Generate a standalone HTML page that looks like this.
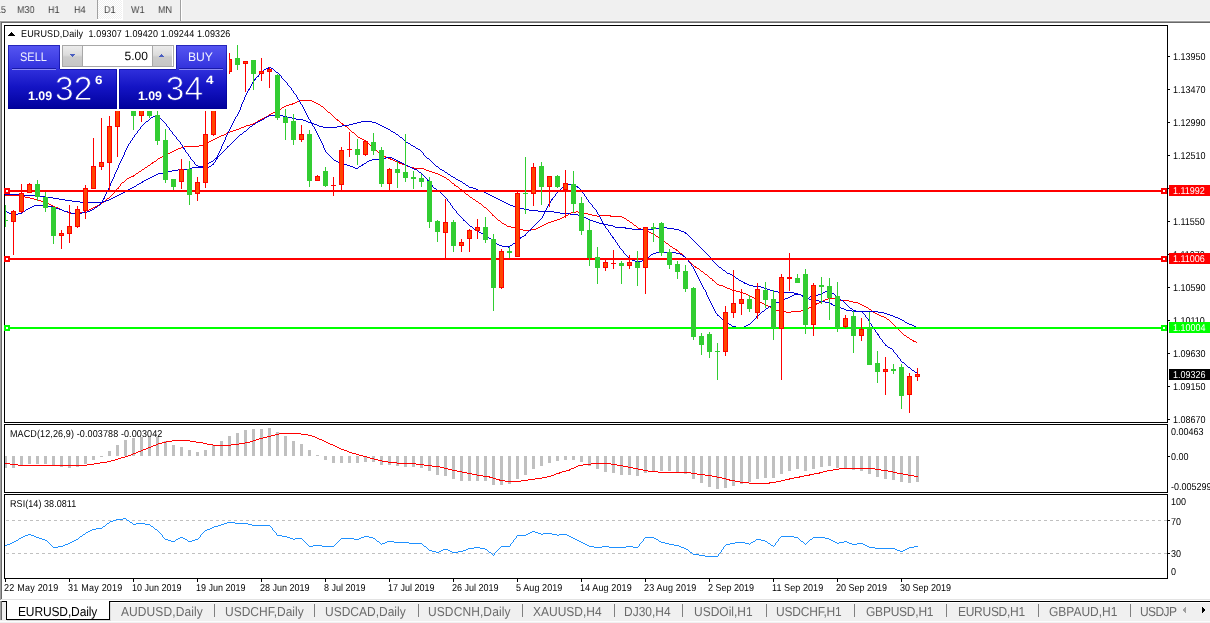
<!DOCTYPE html>
<html><head><meta charset="utf-8"><title>EURUSD,Daily</title>
<style>
html,body{margin:0;padding:0}
body{width:1210px;height:623px;background:#fff;position:relative;overflow:hidden;font-family:"Liberation Sans",sans-serif;text-rendering:geometricPrecision;}
.t{position:absolute;white-space:nowrap;font-size:10px;line-height:11px;color:#000;transform:scaleX(.9);transform-origin:0 0}
.tbt{color:#3c3c3c;will-change:transform}
.tab{font-size:13px;line-height:14px;color:#6a6a6a;transform:scaleX(.923)}
.tab.act{color:#000}
.tag{position:absolute;left:1169px;width:41px;height:11px;font-size:10px;line-height:11px;}
.tag span{position:absolute;left:4px;top:1px;transform:scaleX(.9);transform-origin:0 0;white-space:nowrap}
#tbar{position:absolute;left:0;top:0;width:1210px;height:21px;background:#f0f0f0}
#tabbar{position:absolute;left:0;top:601px;width:1210px;height:22px;background:#f0f0f0}
svg{position:absolute;left:0;top:0}

.pb{position:absolute}
.ov{position:absolute;background:rgba(0,0,140,0.55)}
.sp{position:absolute;width:20px;height:20px;background:linear-gradient(#ececec,#dcdcdc 45%,#cbcbcb 55%,#c6c6c6);border-right:1px solid #a8a8a8;box-sizing:border-box}
.sp+.sp{border-right:none;border-left:1px solid #a8a8a8}
.pr1{top:89px;font-size:12.4px;line-height:14px;font-weight:bold;color:#fff;transform:none}
.pr2{top:72px;font-size:33.5px;line-height:36px;color:#fff;transform:none;-webkit-text-stroke:0.8px #1a1ac6}
.pr3{top:73px;font-size:12px;line-height:14px;font-weight:bold;color:#fff;transform-origin:0 0;transform:scaleX(1.12)}

</style></head><body>
<div id="tbar"></div>
<div style="position:absolute;left:0;top:20px;width:1210px;height:1px;background:#f8f8f8"></div>
<div style="position:absolute;left:0;top:21px;width:1210px;height:1px;background:#a0a0a0"></div>
<div style="position:absolute;left:1px;top:22px;width:1209px;height:1px;background:#696969"></div>
<div style="position:absolute;left:0;top:21px;width:1px;height:579px;background:#a0a0a0"></div>
<div style="position:absolute;left:1px;top:22px;width:1px;height:577px;background:#696969"></div>
<div style="position:absolute;left:97px;top:0;width:26px;height:20px;background:#fff"></div>
<div style="position:absolute;left:98px;top:0;width:24px;height:19px;background:repeating-conic-gradient(#fff 0% 25%,#f0f0f0 0% 50%) 0 0/2px 2px"></div>
<div style="position:absolute;left:97px;top:0;width:1px;height:19px;background:#a0a0a0"></div>
<div style="position:absolute;left:180px;top:0;width:1px;height:21px;background:#a0a0a0"></div>
<div style="position:absolute;left:181px;top:0;width:1px;height:21px;background:#fff"></div>
<div class="t tbt" style="left:-3.7px;top:5px">15</div>
<div class="t tbt" style="left:16.5px;top:5px">M30</div>
<div class="t tbt" style="left:47.6px;top:5px">H1</div>
<div class="t tbt" style="left:74.4px;top:5px">H4</div>
<div class="t tbt" style="left:103.6px;top:5px">D1</div>
<div class="t tbt" style="left:131.4px;top:5px">W1</div>
<div class="t tbt" style="left:157.5px;top:5px">MN</div>
<svg width="1210" height="623" viewBox="0 0 1210 623" shape-rendering="crispEdges">
<rect x="4" y="25" width="1164" height="1" fill="#000"/>
<rect x="4" y="25" width="1" height="553" fill="#000"/>
<rect x="1167" y="25" width="1" height="397" fill="#000"/>
<rect x="4" y="422" width="1164" height="1" fill="#000"/>
<rect x="4" y="424" width="1164" height="1" fill="#000"/>
<rect x="1167" y="424" width="1" height="69" fill="#000"/>
<rect x="4" y="492" width="1164" height="1" fill="#000"/>
<rect x="4" y="494" width="1164" height="1" fill="#000"/>
<rect x="1167" y="494" width="1" height="85" fill="#000"/>
<rect x="4" y="578" width="1164" height="1" fill="#000"/>
<rect x="4" y="423" width="1" height="1" fill="#fff"/>
<rect x="4" y="493" width="1" height="1" fill="#fff"/>
<defs><clipPath id="cm"><rect x="5" y="26" width="1162" height="396"/></clipPath><clipPath id="c2"><rect x="5" y="425" width="1162" height="67"/></clipPath><clipPath id="c3"><rect x="5" y="495" width="1162" height="83"/></clipPath></defs>
<g clip-path="url(#cm)">
<path d="M299,100.5h13M297,101.5h2M312,101.5h2M295,102.5h2M314,102.5h2M292,103.5h3M316,103.5h2M289,104.5h4M318,104.5h2M286,105.5h3M320,105.5h1M284,106.5h2M321,106.5h2M282,107.5h2M323,107.5h1M281,108.5h1M324,108.5h1M279,109.5h2M325,109.5h1M277,110.5h2M326,110.5h1M275,111.5h2M327,111.5h1M273,112.5h2M328,112.5h2M271,113.5h2M330,113.5h1M269,114.5h2M331,114.5h1M268,115.5h1M332,115.5h1M266,116.5h2M333,116.5h1M264,117.5h2M334,117.5h1M262,118.5h2M335,118.5h1M260,119.5h2M336,119.5h2M258,120.5h2M337,120.5h2M257,121.5h1M339,121.5h1M255,122.5h2M340,122.5h1M253,123.5h2M341,123.5h2M250,124.5h3M342,124.5h2M246,125.5h4M344,125.5h1M244,126.5h2M345,126.5h2M241,127.5h3M347,127.5h1M239,128.5h2M348,128.5h1M236,129.5h3M349,129.5h1M233,130.5h3M350,130.5h1M230,131.5h3M351,131.5h1M227,132.5h3M352,132.5h2M226,133.5h2M354,133.5h1M224,134.5h2M355,134.5h1M221,135.5h3M356,135.5h1M219,136.5h2M357,136.5h1M217,137.5h2M358,137.5h2M215,138.5h2M360,138.5h2M213,139.5h2M362,139.5h2M211,140.5h2M364,140.5h1M209,141.5h2M365,141.5h1M207,142.5h2M366,142.5h2M205,143.5h2M368,143.5h1M203,144.5h2M369,144.5h1M199,145.5h4M370,145.5h1M184,146.5h15M371,146.5h2M181,147.5h3M373,147.5h1M178,148.5h3M374,148.5h1M176,149.5h2M375,149.5h1M174,150.5h2M376,150.5h1M172,151.5h2M377,151.5h1M170,152.5h2M378,152.5h1M168,153.5h2M379,153.5h2M165,154.5h3M381,154.5h1M163,155.5h2M382,155.5h2M162,156.5h1M384,156.5h2M160,157.5h2M385,157.5h3M158,158.5h2M388,158.5h3M157,159.5h1M390,159.5h3M156,160.5h1M393,160.5h2M154,161.5h2M395,161.5h3M152,162.5h2M398,162.5h2M151,163.5h2M399,163.5h3M150,164.5h1M402,164.5h3M148,165.5h2M405,165.5h2M147,166.5h1M407,166.5h3M145,167.5h2M410,167.5h4M144,168.5h1M414,168.5h10M142,169.5h2M424,169.5h2M141,170.5h1M426,170.5h3M139,171.5h2M429,171.5h3M138,172.5h1M432,172.5h3M136,173.5h2M435,173.5h3M135,174.5h1M438,174.5h2M133,175.5h2M440,175.5h2M131,176.5h3M442,176.5h2M129,177.5h2M444,177.5h2M127,178.5h2M446,178.5h1M126,179.5h1M447,179.5h2M125,180.5h1M449,180.5h1M124,181.5h1M450,181.5h1M122,182.5h2M451,182.5h1M121,183.5h1M452,183.5h2M120,184.5h1M454,184.5h1M120,185.5h1M454,185.5h2M119,186.5h1M456,186.5h2M118,187.5h1M458,187.5h1M117,188.5h2M459,188.5h1M116,189.5h1M460,189.5h2M116,190.5h1M462,190.5h1M115,191.5h1M463,191.5h1M114,192.5h1M464,192.5h1M113,193.5h1M465,193.5h1M112,194.5h1M466,194.5h2M5,195.5h15M111,195.5h1M468,195.5h1M20,196.5h5M110,196.5h1M469,196.5h1M25,197.5h5M109,197.5h1M470,197.5h2M30,198.5h4M107,198.5h2M472,198.5h1M34,199.5h4M106,199.5h1M473,199.5h2M38,200.5h3M105,200.5h1M475,200.5h1M41,201.5h3M104,201.5h1M476,201.5h2M44,202.5h2M102,202.5h2M478,202.5h1M46,203.5h3M101,203.5h1M479,203.5h2M49,204.5h2M100,204.5h1M481,204.5h1M51,205.5h2M97,205.5h3M482,205.5h1M53,206.5h2M95,206.5h2M483,206.5h1M55,207.5h3M93,207.5h2M484,207.5h2M57,208.5h3M91,208.5h2M486,208.5h1M60,209.5h2M89,209.5h2M487,209.5h1M62,210.5h2M86,210.5h3M488,210.5h1M64,211.5h3M84,211.5h2M489,211.5h1M576,211.5h2M67,212.5h2M77,212.5h7M490,212.5h1M571,212.5h5M578,212.5h6M69,213.5h8M491,213.5h1M569,213.5h2M584,213.5h4M492,214.5h1M568,214.5h1M588,214.5h4M492,215.5h2M566,215.5h2M592,215.5h5M600,215.5h11M494,216.5h1M564,216.5h2M597,216.5h3M610,216.5h12M495,217.5h1M562,217.5h2M622,217.5h2M496,218.5h1M560,218.5h2M624,218.5h2M497,219.5h1M557,219.5h3M626,219.5h1M498,220.5h2M554,220.5h3M627,220.5h2M500,221.5h1M551,221.5h3M629,221.5h1M501,222.5h1M548,222.5h3M630,222.5h2M502,223.5h2M546,223.5h2M632,223.5h1M504,224.5h2M544,224.5h2M633,224.5h1M506,225.5h1M542,225.5h2M634,225.5h2M507,226.5h4M540,226.5h2M636,226.5h1M511,227.5h4M538,227.5h2M637,227.5h1M515,228.5h4M536,228.5h2M638,228.5h3M519,229.5h4M531,229.5h5M641,229.5h3M523,230.5h8M644,230.5h3M647,231.5h2M649,232.5h2M651,233.5h2M653,234.5h2M655,235.5h1M656,236.5h2M658,237.5h1M659,238.5h2M661,239.5h1M662,240.5h2M664,241.5h1M665,242.5h1M666,243.5h2M668,244.5h1M669,245.5h1M670,246.5h2M672,247.5h1M673,248.5h2M675,249.5h2M676,250.5h2M678,251.5h1M679,252.5h1M680,253.5h2M682,254.5h1M683,255.5h1M684,256.5h1M685,257.5h1M686,258.5h1M686,259.5h2M688,260.5h1M689,261.5h1M690,262.5h1M691,263.5h1M692,264.5h1M693,265.5h1M694,266.5h2M695,267.5h2M697,268.5h2M699,269.5h1M700,270.5h1M701,271.5h2M703,272.5h1M704,273.5h1M705,274.5h2M707,275.5h1M708,276.5h1M709,277.5h1M710,278.5h2M712,279.5h1M712,280.5h2M714,281.5h1M715,282.5h1M716,283.5h1M717,284.5h2M719,285.5h4M723,286.5h2M725,287.5h2M727,288.5h3M730,289.5h2M732,290.5h4M736,291.5h4M740,292.5h3M743,293.5h3M746,294.5h2M748,295.5h2M750,296.5h2M752,297.5h2M754,298.5h2M828,298.5h7M756,299.5h2M825,299.5h3M835,299.5h5M758,300.5h1M823,300.5h2M840,300.5h9M759,301.5h1M822,301.5h1M849,301.5h4M760,302.5h2M819,302.5h3M853,302.5h5M762,303.5h2M816,303.5h3M858,303.5h2M764,304.5h1M815,304.5h2M860,304.5h2M765,305.5h3M813,305.5h2M862,305.5h2M768,306.5h2M812,306.5h1M864,306.5h2M770,307.5h2M809,307.5h3M866,307.5h2M772,308.5h2M807,308.5h2M868,308.5h1M774,309.5h2M804,309.5h3M869,309.5h2M776,310.5h4M801,310.5h3M871,310.5h1M780,311.5h6M791,311.5h10M872,311.5h1M786,312.5h5M873,312.5h2M875,313.5h2M877,314.5h2M879,315.5h2M881,316.5h3M884,317.5h2M886,318.5h1M887,319.5h2M889,320.5h1M890,321.5h1M891,322.5h1M892,323.5h1M893,324.5h1M894,325.5h1M895,326.5h1M896,327.5h1M897,328.5h1M898,329.5h1M899,330.5h1M900,331.5h1M901,332.5h1M902,333.5h1M903,334.5h1M904,335.5h2M906,336.5h1M907,337.5h2M909,338.5h1M910,339.5h2M912,340.5h2M913,341.5h3M916,342.5h1" fill="none" stroke="#ff0000" stroke-width="1"/>
<path d="M269,115.5h14M267,116.5h2M283,116.5h4M265,117.5h2M287,117.5h5M264,118.5h1M292,118.5h4M262,119.5h2M296,119.5h7M260,120.5h2M303,120.5h3M258,121.5h2M306,121.5h2M361,121.5h11M256,122.5h2M308,122.5h3M357,122.5h4M372,122.5h4M255,123.5h1M311,123.5h3M353,123.5h4M376,123.5h2M253,124.5h2M314,124.5h3M349,124.5h4M378,124.5h2M252,125.5h1M317,125.5h2M342,125.5h7M380,125.5h2M250,126.5h2M319,126.5h4M337,126.5h5M382,126.5h2M249,127.5h1M323,127.5h14M384,127.5h2M248,128.5h1M386,128.5h2M247,129.5h1M388,129.5h2M246,130.5h1M390,130.5h1M244,131.5h2M391,131.5h2M243,132.5h1M393,132.5h2M242,133.5h1M395,133.5h1M240,134.5h2M396,134.5h2M239,135.5h1M398,135.5h1M238,136.5h1M399,136.5h1M237,137.5h1M400,137.5h2M236,138.5h1M402,138.5h1M235,139.5h1M403,139.5h1M234,140.5h1M404,140.5h1M233,141.5h1M405,141.5h1M232,142.5h1M406,142.5h2M231,143.5h1M408,143.5h2M230,144.5h1M410,144.5h1M229,145.5h1M411,145.5h2M227,146.5h2M413,146.5h2M227,147.5h1M415,147.5h1M226,148.5h1M416,148.5h2M225,149.5h1M418,149.5h2M224,150.5h1M420,150.5h1M223,151.5h1M421,151.5h1M222,152.5h1M422,152.5h1M221,153.5h1M423,153.5h1M220,154.5h1M423,154.5h1M219,155.5h1M424,155.5h1M218,156.5h1M425,156.5h1M217,157.5h1M426,157.5h1M217,158.5h1M427,158.5h2M216,159.5h1M429,159.5h1M215,160.5h1M430,160.5h1M215,161.5h1M431,161.5h1M214,162.5h1M432,162.5h1M213,163.5h1M433,163.5h1M212,164.5h2M434,164.5h1M211,165.5h1M435,165.5h1M209,166.5h2M436,166.5h2M192,167.5h17M438,167.5h1M189,168.5h3M439,168.5h1M178,169.5h11M440,169.5h2M172,170.5h6M442,170.5h2M168,171.5h4M444,171.5h1M164,172.5h4M445,172.5h2M158,173.5h6M447,173.5h1M156,174.5h2M448,174.5h2M154,175.5h2M450,175.5h1M152,176.5h2M451,176.5h2M150,177.5h2M453,177.5h2M148,178.5h2M455,178.5h1M146,179.5h2M456,179.5h2M144,180.5h2M458,180.5h2M142,181.5h2M460,181.5h2M141,182.5h2M462,182.5h1M139,183.5h2M463,183.5h2M137,184.5h2M465,184.5h1M136,185.5h1M466,185.5h2M134,186.5h2M468,186.5h1M132,187.5h2M469,187.5h4M130,188.5h2M473,188.5h3M128,189.5h2M476,189.5h2M127,190.5h1M478,190.5h3M125,191.5h2M481,191.5h3M123,192.5h2M484,192.5h2M121,193.5h2M486,193.5h2M5,194.5h17M119,194.5h2M488,194.5h2M22,195.5h15M117,195.5h2M490,195.5h2M37,196.5h9M115,196.5h2M492,196.5h2M46,197.5h7M113,197.5h2M494,197.5h2M53,198.5h6M111,198.5h2M496,198.5h2M59,199.5h6M109,199.5h2M498,199.5h2M65,200.5h7M106,200.5h3M500,200.5h2M72,201.5h8M103,201.5h3M502,201.5h2M80,202.5h23M504,202.5h2M506,203.5h2M508,204.5h2M510,205.5h3M513,206.5h3M516,207.5h3M519,208.5h5M524,209.5h5M529,210.5h9M538,211.5h16M554,212.5h6M560,213.5h10M570,214.5h8M578,215.5h3M581,216.5h2M583,217.5h3M586,218.5h2M588,219.5h2M590,220.5h3M593,221.5h3M596,222.5h3M599,223.5h4M603,224.5h5M608,225.5h5M613,226.5h2M615,227.5h11M662,227.5h5M625,228.5h7M654,228.5h8M667,228.5h7M632,229.5h22M674,229.5h5M679,230.5h2M681,231.5h3M684,232.5h2M685,233.5h2M687,234.5h1M688,235.5h1M689,236.5h1M690,237.5h1M691,238.5h1M692,239.5h1M693,240.5h1M694,241.5h1M695,242.5h1M696,243.5h1M697,244.5h1M698,245.5h1M699,246.5h1M700,247.5h1M701,248.5h1M702,249.5h1M703,250.5h1M704,251.5h1M705,252.5h1M706,253.5h1M707,254.5h1M708,255.5h1M709,256.5h1M710,257.5h1M711,258.5h1M712,259.5h1M712,260.5h1M713,261.5h1M714,262.5h1M715,263.5h1M716,264.5h1M717,265.5h1M718,266.5h1M719,267.5h2M721,268.5h1M722,269.5h1M723,270.5h2M725,271.5h1M726,272.5h1M727,273.5h3M730,274.5h2M732,275.5h1M733,276.5h2M735,277.5h1M736,278.5h2M738,279.5h1M739,280.5h2M741,281.5h2M743,282.5h2M744,283.5h3M747,284.5h2M749,285.5h4M753,286.5h8M761,287.5h3M764,288.5h3M767,289.5h3M770,290.5h3M773,291.5h5M778,292.5h16M794,293.5h4M798,294.5h3M801,295.5h2M803,296.5h2M805,297.5h2M807,298.5h2M809,299.5h2M811,300.5h8M819,301.5h6M825,302.5h4M829,303.5h3M831,304.5h2M833,305.5h3M836,306.5h2M838,307.5h3M841,308.5h3M844,309.5h2M846,310.5h6M852,311.5h26M878,312.5h6M884,313.5h3M887,314.5h3M890,315.5h3M893,316.5h2M895,317.5h3M898,318.5h2M900,319.5h2M902,320.5h2M904,321.5h1M905,322.5h2M907,323.5h2M909,324.5h3M912,325.5h2M914,326.5h2" fill="none" stroke="#0000d6" stroke-width="1"/>
<path d="M268,67.5h3M266,68.5h3M271,68.5h2M264,69.5h2M273,69.5h1M263,70.5h1M274,70.5h1M261,71.5h2M275,71.5h1M260,72.5h1M276,72.5h2M260,73.5h1M278,73.5h1M259,74.5h1M279,74.5h1M258,75.5h1M280,75.5h1M257,76.5h2M281,76.5h1M256,77.5h1M281,77.5h1M255,78.5h1M282,78.5h1M254,79.5h2M283,79.5h1M254,80.5h1M284,80.5h1M253,81.5h1M285,81.5h1M252,82.5h1M286,82.5h1M252,83.5h1M287,83.5h1M251,84.5h1M287,84.5h1M251,85.5h1M288,85.5h1M250,86.5h1M289,86.5h1M250,87.5h1M290,87.5h1M249,88.5h1M291,88.5h1M248,89.5h2M291,89.5h1M248,90.5h1M292,90.5h1M247,91.5h1M293,91.5h1M247,92.5h1M293,92.5h1M246,93.5h1M294,93.5h1M246,94.5h1M295,94.5h1M245,95.5h1M296,95.5h1M245,96.5h1M296,96.5h1M244,97.5h1M297,97.5h1M244,98.5h1M297,98.5h1M244,99.5h1M298,99.5h1M243,100.5h1M299,100.5h1M243,101.5h1M299,101.5h1M242,102.5h1M300,102.5h1M242,103.5h1M300,103.5h1M241,104.5h1M301,104.5h1M241,105.5h1M302,105.5h1M241,106.5h1M302,106.5h1M240,107.5h1M303,107.5h1M240,108.5h1M303,108.5h1M240,109.5h1M304,109.5h1M239,110.5h1M304,110.5h1M239,111.5h1M305,111.5h1M238,112.5h1M305,112.5h1M238,113.5h1M306,113.5h1M237,114.5h1M306,114.5h1M155,115.5h3M237,115.5h1M307,115.5h1M153,116.5h2M158,116.5h1M236,116.5h1M307,116.5h1M151,117.5h2M159,117.5h1M235,117.5h1M308,117.5h1M150,118.5h1M160,118.5h1M235,118.5h1M308,118.5h1M149,119.5h1M161,119.5h1M234,119.5h1M309,119.5h1M148,120.5h1M162,120.5h1M234,120.5h1M310,120.5h1M146,121.5h2M163,121.5h1M233,121.5h1M310,121.5h1M145,122.5h1M164,122.5h1M233,122.5h1M311,122.5h1M144,123.5h1M165,123.5h1M232,123.5h1M311,123.5h1M143,124.5h1M166,124.5h1M232,124.5h1M312,124.5h1M142,125.5h1M166,125.5h1M231,125.5h1M312,125.5h1M141,126.5h1M167,126.5h1M231,126.5h1M313,126.5h1M140,127.5h1M168,127.5h1M230,127.5h1M314,127.5h1M140,128.5h1M169,128.5h1M230,128.5h1M314,128.5h1M139,129.5h1M169,129.5h1M229,129.5h1M315,129.5h1M138,130.5h1M170,130.5h1M229,130.5h1M315,130.5h1M137,131.5h1M171,131.5h1M228,131.5h1M316,131.5h1M137,132.5h1M172,132.5h1M228,132.5h1M316,132.5h1M136,133.5h1M172,133.5h1M227,133.5h1M317,133.5h1M135,134.5h1M173,134.5h1M227,134.5h1M317,134.5h1M134,135.5h1M174,135.5h1M226,135.5h1M318,135.5h1M134,136.5h1M175,136.5h1M226,136.5h1M318,136.5h1M133,137.5h1M176,137.5h1M225,137.5h1M319,137.5h1M132,138.5h1M176,138.5h1M225,138.5h1M319,138.5h1M132,139.5h1M177,139.5h1M225,139.5h1M320,139.5h1M131,140.5h1M178,140.5h1M224,140.5h1M320,140.5h1M130,141.5h1M179,141.5h1M224,141.5h1M321,141.5h1M130,142.5h1M180,142.5h1M223,142.5h1M321,142.5h1M129,143.5h1M180,143.5h1M223,143.5h1M322,143.5h1M128,144.5h1M181,144.5h1M222,144.5h1M322,144.5h1M128,145.5h1M182,145.5h1M222,145.5h1M323,145.5h1M127,146.5h1M182,146.5h1M221,146.5h1M323,146.5h1M127,147.5h1M183,147.5h1M221,147.5h1M323,147.5h1M126,148.5h1M183,148.5h2M221,148.5h1M324,148.5h1M126,149.5h1M184,149.5h1M220,149.5h1M324,149.5h1M125,150.5h1M185,150.5h1M220,150.5h1M325,150.5h1M125,151.5h1M185,151.5h1M219,151.5h1M325,151.5h1M124,152.5h1M186,152.5h1M219,152.5h1M326,152.5h1M124,153.5h1M187,153.5h1M218,153.5h1M327,153.5h1M124,154.5h1M188,154.5h1M218,154.5h1M328,154.5h1M123,155.5h1M188,155.5h1M217,155.5h1M329,155.5h1M123,156.5h1M189,156.5h1M217,156.5h1M330,156.5h1M122,157.5h1M190,157.5h1M216,157.5h1M331,157.5h1M386,157.5h6M122,158.5h1M190,158.5h1M215,158.5h2M332,158.5h1M381,158.5h5M392,158.5h2M121,159.5h1M191,159.5h1M214,159.5h1M333,159.5h1M372,159.5h9M394,159.5h2M121,160.5h1M192,160.5h1M213,160.5h1M334,160.5h2M369,160.5h3M396,160.5h2M120,161.5h1M193,161.5h1M211,161.5h2M336,161.5h2M367,161.5h2M398,161.5h2M120,162.5h1M194,162.5h1M209,162.5h2M338,162.5h3M366,162.5h1M400,162.5h2M119,163.5h1M194,163.5h1M207,163.5h2M341,163.5h3M364,163.5h2M402,163.5h2M119,164.5h1M195,164.5h1M205,164.5h2M344,164.5h3M362,164.5h2M404,164.5h2M118,165.5h1M196,165.5h2M203,165.5h2M347,165.5h3M361,165.5h2M406,165.5h2M118,166.5h1M198,166.5h5M350,166.5h3M359,166.5h2M408,166.5h2M118,167.5h1M199,167.5h1M353,167.5h2M358,167.5h1M410,167.5h2M117,168.5h1M355,168.5h3M412,168.5h2M117,169.5h1M414,169.5h3M116,170.5h1M417,170.5h1M116,171.5h1M418,171.5h1M115,172.5h1M419,172.5h2M115,173.5h1M421,173.5h1M114,174.5h1M422,174.5h1M114,175.5h1M423,175.5h1M114,176.5h1M424,176.5h1M113,177.5h1M425,177.5h1M113,178.5h1M426,178.5h1M112,179.5h1M427,179.5h1M112,180.5h1M427,180.5h2M111,181.5h1M428,181.5h1M111,182.5h1M429,182.5h1M110,183.5h1M430,183.5h1M110,184.5h1M431,184.5h1M567,184.5h5M110,185.5h1M432,185.5h1M564,185.5h3M572,185.5h3M109,186.5h1M432,186.5h1M563,186.5h1M575,186.5h3M109,187.5h1M433,187.5h1M562,187.5h1M577,187.5h2M108,188.5h2M434,188.5h2M561,188.5h1M579,188.5h1M108,189.5h1M436,189.5h1M560,189.5h1M580,189.5h1M107,190.5h1M437,190.5h1M559,190.5h1M581,190.5h1M107,191.5h1M438,191.5h2M558,191.5h1M581,191.5h1M106,192.5h1M440,192.5h1M557,192.5h1M582,192.5h1M106,193.5h1M441,193.5h1M556,193.5h1M583,193.5h1M105,194.5h1M442,194.5h1M555,194.5h1M584,194.5h1M105,195.5h1M443,195.5h1M555,195.5h1M584,195.5h1M104,196.5h1M444,196.5h1M554,196.5h1M585,196.5h1M104,197.5h1M445,197.5h1M553,197.5h1M586,197.5h1M103,198.5h2M446,198.5h1M552,198.5h1M586,198.5h1M103,199.5h1M447,199.5h1M551,199.5h2M587,199.5h1M102,200.5h1M447,200.5h1M551,200.5h1M588,200.5h1M102,201.5h1M448,201.5h1M550,201.5h1M588,201.5h1M101,202.5h1M449,202.5h1M550,202.5h1M589,202.5h1M100,203.5h1M450,203.5h1M549,203.5h1M590,203.5h1M99,204.5h2M450,204.5h1M548,204.5h1M591,204.5h1M34,205.5h14M98,205.5h1M451,205.5h1M548,205.5h1M592,205.5h1M32,206.5h2M48,206.5h5M97,206.5h1M452,206.5h1M547,206.5h1M592,206.5h1M30,207.5h2M53,207.5h3M95,207.5h2M452,207.5h1M547,207.5h1M593,207.5h1M28,208.5h2M56,208.5h3M94,208.5h1M453,208.5h1M546,208.5h1M594,208.5h1M26,209.5h2M59,209.5h3M92,209.5h2M454,209.5h1M546,209.5h1M595,209.5h1M25,210.5h1M62,210.5h2M90,210.5h2M455,210.5h1M545,210.5h1M596,210.5h1M5,211.5h2M23,211.5h2M64,211.5h4M87,211.5h3M456,211.5h1M545,211.5h1M596,211.5h1M7,212.5h2M22,212.5h1M68,212.5h3M82,212.5h5M456,212.5h1M544,212.5h1M597,212.5h1M9,213.5h5M18,213.5h4M71,213.5h11M457,213.5h1M544,213.5h1M597,213.5h1M14,214.5h4M458,214.5h1M543,214.5h1M598,214.5h1M459,215.5h1M543,215.5h1M599,215.5h1M460,216.5h1M542,216.5h1M599,216.5h1M461,217.5h1M542,217.5h1M600,217.5h1M462,218.5h1M541,218.5h1M600,218.5h1M463,219.5h1M540,219.5h1M601,219.5h1M463,220.5h2M539,220.5h1M601,220.5h1M465,221.5h1M538,221.5h1M602,221.5h1M466,222.5h1M537,222.5h1M602,222.5h1M467,223.5h1M536,223.5h1M603,223.5h1M468,224.5h1M535,224.5h1M603,224.5h1M469,225.5h1M534,225.5h1M604,225.5h1M470,226.5h2M533,226.5h1M605,226.5h1M472,227.5h1M532,227.5h1M605,227.5h1M473,228.5h1M531,228.5h1M606,228.5h1M474,229.5h2M530,229.5h1M607,229.5h1M476,230.5h1M529,230.5h2M608,230.5h1M477,231.5h2M528,231.5h1M608,231.5h1M479,232.5h2M527,232.5h1M609,232.5h1M481,233.5h2M526,233.5h1M610,233.5h1M483,234.5h2M525,234.5h1M610,234.5h1M485,235.5h2M524,235.5h2M611,235.5h1M487,236.5h1M522,236.5h2M612,236.5h1M488,237.5h1M520,237.5h2M612,237.5h2M489,238.5h2M519,238.5h2M613,238.5h1M491,239.5h1M518,239.5h1M614,239.5h1M491,240.5h2M517,240.5h1M615,240.5h1M493,241.5h1M516,241.5h1M615,241.5h1M494,242.5h2M515,242.5h1M616,242.5h1M496,243.5h1M513,243.5h2M617,243.5h1M497,244.5h2M512,244.5h1M617,244.5h1M499,245.5h3M510,245.5h2M618,245.5h1M502,246.5h8M619,246.5h1M508,247.5h1M619,247.5h1M620,248.5h1M621,249.5h1M622,250.5h1M623,251.5h1M623,252.5h1M656,252.5h20M624,253.5h1M653,253.5h3M676,253.5h4M625,254.5h1M651,254.5h2M680,254.5h2M626,255.5h1M650,255.5h1M682,255.5h2M627,256.5h1M649,256.5h1M683,256.5h2M628,257.5h1M647,257.5h2M685,257.5h1M629,258.5h2M645,258.5h2M686,258.5h1M631,259.5h1M643,259.5h2M687,259.5h1M632,260.5h3M642,260.5h1M688,260.5h1M635,261.5h7M688,261.5h1M637,262.5h1M689,262.5h1M690,263.5h1M691,264.5h1M691,265.5h1M692,266.5h1M693,267.5h1M693,268.5h1M694,269.5h1M694,270.5h1M695,271.5h1M695,272.5h1M696,273.5h1M696,274.5h1M697,275.5h1M697,276.5h1M698,277.5h1M698,278.5h1M699,279.5h1M699,280.5h1M700,281.5h1M700,282.5h1M701,283.5h1M701,284.5h1M702,285.5h1M702,286.5h1M703,287.5h1M703,288.5h1M704,289.5h1M705,290.5h1M705,291.5h1M825,291.5h4M706,292.5h1M823,292.5h2M829,292.5h3M706,293.5h1M821,293.5h2M832,293.5h2M706,294.5h1M794,294.5h7M818,294.5h3M834,294.5h1M707,295.5h1M792,295.5h2M801,295.5h2M814,295.5h4M835,295.5h1M707,296.5h1M790,296.5h2M802,296.5h4M810,296.5h4M836,296.5h1M708,297.5h1M788,297.5h2M806,297.5h2M809,297.5h1M837,297.5h2M708,298.5h1M785,298.5h3M808,298.5h1M839,298.5h1M709,299.5h1M783,299.5h2M840,299.5h1M709,300.5h1M781,300.5h2M841,300.5h2M710,301.5h1M779,301.5h2M843,301.5h1M710,302.5h1M776,302.5h3M844,302.5h1M711,303.5h1M774,303.5h2M845,303.5h1M711,304.5h1M773,304.5h1M846,304.5h1M712,305.5h1M771,305.5h2M847,305.5h1M712,306.5h1M769,306.5h2M848,306.5h1M713,307.5h1M768,307.5h1M849,307.5h1M713,308.5h1M766,308.5h2M850,308.5h2M714,309.5h1M765,309.5h1M852,309.5h1M714,310.5h1M764,310.5h1M853,310.5h3M715,311.5h1M762,311.5h2M856,311.5h6M715,312.5h1M761,312.5h1M862,312.5h1M716,313.5h1M760,313.5h1M863,313.5h1M717,314.5h1M759,314.5h1M864,314.5h1M717,315.5h2M758,315.5h1M865,315.5h1M719,316.5h1M756,316.5h2M865,316.5h1M720,317.5h1M756,317.5h1M866,317.5h1M721,318.5h1M755,318.5h1M867,318.5h1M722,319.5h2M754,319.5h1M868,319.5h1M724,320.5h1M753,320.5h1M868,320.5h1M725,321.5h1M752,321.5h1M869,321.5h1M726,322.5h2M751,322.5h1M869,322.5h1M728,323.5h1M750,323.5h1M870,323.5h1M729,324.5h2M748,324.5h2M871,324.5h1M731,325.5h1M746,325.5h2M871,325.5h1M732,326.5h4M744,326.5h2M872,326.5h1M736,327.5h8M872,327.5h2M740,328.5h1M873,328.5h1M874,329.5h1M875,330.5h1M875,331.5h1M876,332.5h1M877,333.5h1M877,334.5h2M878,335.5h1M879,336.5h1M879,337.5h1M880,338.5h1M881,339.5h1M882,340.5h1M882,341.5h1M883,342.5h1M884,343.5h1M885,344.5h1M885,345.5h2M887,346.5h1M888,347.5h2M890,348.5h2M892,349.5h1M893,350.5h1M893,351.5h1M894,352.5h1M895,353.5h1M896,354.5h1M897,355.5h1M897,356.5h1M898,357.5h1M899,358.5h1M900,359.5h1M900,360.5h1M901,361.5h1M902,362.5h2M904,363.5h1M905,364.5h1M906,365.5h1M907,366.5h1M908,367.5h2M910,368.5h1M911,369.5h1M912,370.5h2M914,371.5h1M915,372.5h2" fill="none" stroke="#0000d6" stroke-width="1"/>
<rect x="5" y="190" width="1162" height="2" fill="#ff0000"/>
<rect x="5" y="258" width="1162" height="2" fill="#ff0000"/>
<rect x="5" y="327" width="1162" height="2" fill="#00ff00"/>
<rect x="5" y="205" width="1" height="22" fill="#32cd32"/>
<rect x="3" y="220" width="5" height="1" fill="#32cd32"/>
<rect x="13" y="210" width="1" height="45" fill="#ff0000"/>
<rect x="11" y="211" width="5" height="11" fill="#ff0000"/>
<rect x="12" y="212" width="3" height="9" fill="#ff4500"/>
<rect x="21" y="184" width="1" height="29" fill="#ff0000"/>
<rect x="19" y="193" width="5" height="19" fill="#ff0000"/>
<rect x="20" y="194" width="3" height="17" fill="#ff4500"/>
<rect x="29" y="183" width="1" height="10" fill="#ff0000"/>
<rect x="27" y="184" width="5" height="9" fill="#ff0000"/>
<rect x="28" y="185" width="3" height="7" fill="#ff4500"/>
<rect x="37" y="180" width="1" height="21" fill="#32cd32"/>
<rect x="35" y="184" width="5" height="13" fill="#32cd32"/>
<rect x="45" y="192" width="1" height="20" fill="#32cd32"/>
<rect x="43" y="197" width="5" height="11" fill="#32cd32"/>
<rect x="53" y="207" width="1" height="37" fill="#32cd32"/>
<rect x="51" y="207" width="5" height="29" fill="#32cd32"/>
<rect x="61" y="230" width="1" height="19" fill="#ff0000"/>
<rect x="59" y="233" width="5" height="3" fill="#ff0000"/>
<rect x="60" y="234" width="3" height="1" fill="#ff4500"/>
<rect x="69" y="205" width="1" height="38" fill="#ff0000"/>
<rect x="67" y="226" width="5" height="8" fill="#ff0000"/>
<rect x="68" y="227" width="3" height="6" fill="#ff4500"/>
<rect x="77" y="206" width="1" height="22" fill="#ff0000"/>
<rect x="75" y="209" width="5" height="18" fill="#ff0000"/>
<rect x="76" y="210" width="3" height="16" fill="#ff4500"/>
<rect x="85" y="185" width="1" height="34" fill="#ff0000"/>
<rect x="83" y="188" width="5" height="23" fill="#ff0000"/>
<rect x="84" y="189" width="3" height="21" fill="#ff4500"/>
<rect x="93" y="138" width="1" height="51" fill="#ff0000"/>
<rect x="91" y="166" width="5" height="23" fill="#ff0000"/>
<rect x="92" y="167" width="3" height="21" fill="#ff4500"/>
<rect x="101" y="118" width="1" height="52" fill="#ff0000"/>
<rect x="99" y="162" width="5" height="5" fill="#ff0000"/>
<rect x="100" y="163" width="3" height="3" fill="#ff4500"/>
<rect x="109" y="116" width="1" height="74" fill="#ff0000"/>
<rect x="107" y="126" width="5" height="37" fill="#ff0000"/>
<rect x="108" y="127" width="3" height="35" fill="#ff4500"/>
<rect x="117" y="95" width="1" height="62" fill="#ff0000"/>
<rect x="115" y="100" width="5" height="27" fill="#ff0000"/>
<rect x="116" y="101" width="3" height="25" fill="#ff4500"/>
<rect x="125" y="90" width="1" height="16" fill="#ff0000"/>
<rect x="123" y="95" width="5" height="9" fill="#ff0000"/>
<rect x="124" y="96" width="3" height="7" fill="#ff4500"/>
<rect x="133" y="100" width="1" height="30" fill="#32cd32"/>
<rect x="131" y="104" width="5" height="12" fill="#32cd32"/>
<rect x="141" y="100" width="1" height="22" fill="#ff0000"/>
<rect x="139" y="110" width="5" height="6" fill="#ff0000"/>
<rect x="140" y="111" width="3" height="4" fill="#ff4500"/>
<rect x="149" y="100" width="1" height="18" fill="#32cd32"/>
<rect x="147" y="108" width="5" height="8" fill="#32cd32"/>
<rect x="157" y="111" width="1" height="34" fill="#32cd32"/>
<rect x="155" y="115" width="5" height="26" fill="#32cd32"/>
<rect x="165" y="129" width="1" height="54" fill="#32cd32"/>
<rect x="163" y="140" width="5" height="40" fill="#32cd32"/>
<rect x="173" y="179" width="1" height="11" fill="#32cd32"/>
<rect x="171" y="179" width="5" height="8" fill="#32cd32"/>
<rect x="181" y="159" width="1" height="30" fill="#ff0000"/>
<rect x="179" y="169" width="5" height="13" fill="#ff0000"/>
<rect x="180" y="170" width="3" height="11" fill="#ff4500"/>
<rect x="189" y="161" width="1" height="44" fill="#32cd32"/>
<rect x="187" y="169" width="5" height="26" fill="#32cd32"/>
<rect x="197" y="177" width="1" height="24" fill="#ff0000"/>
<rect x="195" y="182" width="5" height="12" fill="#ff0000"/>
<rect x="196" y="183" width="3" height="10" fill="#ff4500"/>
<rect x="205" y="111" width="1" height="77" fill="#ff0000"/>
<rect x="203" y="134" width="5" height="49" fill="#ff0000"/>
<rect x="204" y="135" width="3" height="47" fill="#ff4500"/>
<rect x="213" y="100" width="1" height="36" fill="#ff0000"/>
<rect x="211" y="104" width="5" height="31" fill="#ff0000"/>
<rect x="212" y="105" width="3" height="29" fill="#ff4500"/>
<rect x="221" y="70" width="1" height="36" fill="#ff0000"/>
<rect x="219" y="72" width="5" height="32" fill="#ff0000"/>
<rect x="220" y="73" width="3" height="30" fill="#ff4500"/>
<rect x="229" y="53" width="1" height="21" fill="#ff0000"/>
<rect x="227" y="59" width="5" height="13" fill="#ff0000"/>
<rect x="228" y="60" width="3" height="11" fill="#ff4500"/>
<rect x="237" y="45" width="1" height="25" fill="#32cd32"/>
<rect x="235" y="58" width="5" height="7" fill="#32cd32"/>
<rect x="245" y="61" width="1" height="31" fill="#ff0000"/>
<rect x="243" y="61" width="5" height="3" fill="#ff0000"/>
<rect x="244" y="62" width="3" height="1" fill="#ff4500"/>
<rect x="253" y="60" width="1" height="30" fill="#32cd32"/>
<rect x="251" y="60" width="5" height="14" fill="#32cd32"/>
<rect x="261" y="58" width="1" height="23" fill="#ff0000"/>
<rect x="259" y="71" width="5" height="3" fill="#ff0000"/>
<rect x="260" y="72" width="3" height="1" fill="#ff4500"/>
<rect x="269" y="67" width="1" height="21" fill="#ff0000"/>
<rect x="267" y="69" width="5" height="3" fill="#ff0000"/>
<rect x="268" y="70" width="3" height="1" fill="#ff4500"/>
<rect x="277" y="74" width="1" height="46" fill="#32cd32"/>
<rect x="275" y="75" width="5" height="43" fill="#32cd32"/>
<rect x="285" y="109" width="1" height="31" fill="#32cd32"/>
<rect x="283" y="117" width="5" height="6" fill="#32cd32"/>
<rect x="293" y="114" width="1" height="31" fill="#32cd32"/>
<rect x="291" y="121" width="5" height="19" fill="#32cd32"/>
<rect x="301" y="125" width="1" height="17" fill="#ff0000"/>
<rect x="299" y="134" width="5" height="6" fill="#ff0000"/>
<rect x="300" y="135" width="3" height="4" fill="#ff4500"/>
<rect x="309" y="130" width="1" height="57" fill="#32cd32"/>
<rect x="307" y="134" width="5" height="47" fill="#32cd32"/>
<rect x="317" y="175" width="1" height="6" fill="#ff0000"/>
<rect x="315" y="176" width="5" height="5" fill="#ff0000"/>
<rect x="316" y="177" width="3" height="3" fill="#ff4500"/>
<rect x="325" y="167" width="1" height="20" fill="#32cd32"/>
<rect x="323" y="171" width="5" height="15" fill="#32cd32"/>
<rect x="333" y="177" width="1" height="19" fill="#ff0000"/>
<rect x="331" y="185" width="5" height="1" fill="#ff0000"/>
<rect x="341" y="147" width="1" height="43" fill="#ff0000"/>
<rect x="339" y="150" width="5" height="35" fill="#ff0000"/>
<rect x="340" y="151" width="3" height="33" fill="#ff4500"/>
<rect x="349" y="132" width="1" height="25" fill="#ff0000"/>
<rect x="347" y="149" width="5" height="1" fill="#ff0000"/>
<rect x="357" y="139" width="1" height="26" fill="#32cd32"/>
<rect x="355" y="149" width="5" height="6" fill="#32cd32"/>
<rect x="365" y="140" width="1" height="16" fill="#ff0000"/>
<rect x="363" y="141" width="5" height="14" fill="#ff0000"/>
<rect x="364" y="142" width="3" height="12" fill="#ff4500"/>
<rect x="373" y="133" width="1" height="22" fill="#32cd32"/>
<rect x="371" y="142" width="5" height="9" fill="#32cd32"/>
<rect x="381" y="147" width="1" height="40" fill="#32cd32"/>
<rect x="379" y="150" width="5" height="34" fill="#32cd32"/>
<rect x="389" y="168" width="1" height="23" fill="#ff0000"/>
<rect x="387" y="169" width="5" height="15" fill="#ff0000"/>
<rect x="388" y="170" width="3" height="13" fill="#ff4500"/>
<rect x="397" y="161" width="1" height="27" fill="#32cd32"/>
<rect x="395" y="169" width="5" height="4" fill="#32cd32"/>
<rect x="405" y="134" width="1" height="48" fill="#32cd32"/>
<rect x="403" y="172" width="5" height="6" fill="#32cd32"/>
<rect x="413" y="171" width="1" height="18" fill="#32cd32"/>
<rect x="411" y="177" width="5" height="2" fill="#32cd32"/>
<rect x="421" y="174" width="1" height="13" fill="#32cd32"/>
<rect x="419" y="178" width="5" height="4" fill="#32cd32"/>
<rect x="429" y="177" width="1" height="51" fill="#32cd32"/>
<rect x="427" y="181" width="5" height="41" fill="#32cd32"/>
<rect x="437" y="220" width="1" height="22" fill="#32cd32"/>
<rect x="435" y="221" width="5" height="11" fill="#32cd32"/>
<rect x="445" y="199" width="1" height="59" fill="#ff0000"/>
<rect x="443" y="222" width="5" height="11" fill="#ff0000"/>
<rect x="444" y="223" width="3" height="9" fill="#ff4500"/>
<rect x="453" y="220" width="1" height="32" fill="#32cd32"/>
<rect x="451" y="222" width="5" height="24" fill="#32cd32"/>
<rect x="461" y="239" width="1" height="13" fill="#ff0000"/>
<rect x="459" y="242" width="5" height="4" fill="#ff0000"/>
<rect x="460" y="243" width="3" height="2" fill="#ff4500"/>
<rect x="469" y="229" width="1" height="23" fill="#ff0000"/>
<rect x="467" y="230" width="5" height="9" fill="#ff0000"/>
<rect x="468" y="231" width="3" height="7" fill="#ff4500"/>
<rect x="477" y="219" width="1" height="20" fill="#ff0000"/>
<rect x="475" y="227" width="5" height="4" fill="#ff0000"/>
<rect x="476" y="228" width="3" height="2" fill="#ff4500"/>
<rect x="485" y="217" width="1" height="26" fill="#32cd32"/>
<rect x="483" y="227" width="5" height="13" fill="#32cd32"/>
<rect x="493" y="234" width="1" height="77" fill="#32cd32"/>
<rect x="491" y="239" width="5" height="49" fill="#32cd32"/>
<rect x="501" y="249" width="1" height="40" fill="#ff0000"/>
<rect x="499" y="251" width="5" height="37" fill="#ff0000"/>
<rect x="500" y="252" width="3" height="35" fill="#ff4500"/>
<rect x="509" y="247" width="1" height="11" fill="#32cd32"/>
<rect x="507" y="251" width="5" height="2" fill="#32cd32"/>
<rect x="517" y="192" width="1" height="65" fill="#ff0000"/>
<rect x="515" y="193" width="5" height="64" fill="#ff0000"/>
<rect x="516" y="194" width="3" height="62" fill="#ff4500"/>
<rect x="525" y="157" width="1" height="57" fill="#32cd32"/>
<rect x="523" y="193" width="5" height="1" fill="#32cd32"/>
<rect x="533" y="163" width="1" height="43" fill="#ff0000"/>
<rect x="531" y="167" width="5" height="27" fill="#ff0000"/>
<rect x="532" y="168" width="3" height="25" fill="#ff4500"/>
<rect x="541" y="162" width="1" height="43" fill="#32cd32"/>
<rect x="539" y="166" width="5" height="21" fill="#32cd32"/>
<rect x="549" y="176" width="1" height="31" fill="#ff0000"/>
<rect x="547" y="176" width="5" height="11" fill="#ff0000"/>
<rect x="548" y="177" width="3" height="9" fill="#ff4500"/>
<rect x="557" y="175" width="1" height="13" fill="#32cd32"/>
<rect x="555" y="176" width="5" height="11" fill="#32cd32"/>
<rect x="565" y="170" width="1" height="48" fill="#ff0000"/>
<rect x="563" y="183" width="5" height="7" fill="#ff0000"/>
<rect x="564" y="184" width="3" height="5" fill="#ff4500"/>
<rect x="573" y="171" width="1" height="42" fill="#32cd32"/>
<rect x="571" y="184" width="5" height="20" fill="#32cd32"/>
<rect x="581" y="197" width="1" height="38" fill="#32cd32"/>
<rect x="579" y="203" width="5" height="28" fill="#32cd32"/>
<rect x="589" y="220" width="1" height="46" fill="#32cd32"/>
<rect x="587" y="230" width="5" height="28" fill="#32cd32"/>
<rect x="597" y="247" width="1" height="37" fill="#32cd32"/>
<rect x="595" y="257" width="5" height="11" fill="#32cd32"/>
<rect x="605" y="260" width="1" height="11" fill="#ff0000"/>
<rect x="603" y="262" width="5" height="6" fill="#ff0000"/>
<rect x="604" y="263" width="3" height="4" fill="#ff4500"/>
<rect x="613" y="250" width="1" height="19" fill="#ff0000"/>
<rect x="611" y="263" width="5" height="1" fill="#ff0000"/>
<rect x="621" y="261" width="1" height="23" fill="#32cd32"/>
<rect x="619" y="263" width="5" height="3" fill="#32cd32"/>
<rect x="629" y="255" width="1" height="14" fill="#ff0000"/>
<rect x="627" y="262" width="5" height="4" fill="#ff0000"/>
<rect x="628" y="263" width="3" height="2" fill="#ff4500"/>
<rect x="637" y="251" width="1" height="35" fill="#32cd32"/>
<rect x="635" y="262" width="5" height="6" fill="#32cd32"/>
<rect x="645" y="227" width="1" height="67" fill="#ff0000"/>
<rect x="643" y="227" width="5" height="41" fill="#ff0000"/>
<rect x="644" y="228" width="3" height="39" fill="#ff4500"/>
<rect x="653" y="223" width="1" height="19" fill="#32cd32"/>
<rect x="651" y="227" width="5" height="2" fill="#32cd32"/>
<rect x="661" y="222" width="1" height="34" fill="#32cd32"/>
<rect x="659" y="223" width="5" height="30" fill="#32cd32"/>
<rect x="669" y="249" width="1" height="20" fill="#32cd32"/>
<rect x="667" y="252" width="5" height="13" fill="#32cd32"/>
<rect x="677" y="261" width="1" height="18" fill="#32cd32"/>
<rect x="675" y="264" width="5" height="8" fill="#32cd32"/>
<rect x="685" y="265" width="1" height="27" fill="#32cd32"/>
<rect x="683" y="271" width="5" height="18" fill="#32cd32"/>
<rect x="693" y="287" width="1" height="53" fill="#32cd32"/>
<rect x="691" y="288" width="5" height="49" fill="#32cd32"/>
<rect x="701" y="333" width="1" height="22" fill="#32cd32"/>
<rect x="699" y="336" width="5" height="9" fill="#32cd32"/>
<rect x="709" y="332" width="1" height="26" fill="#32cd32"/>
<rect x="707" y="334" width="5" height="18" fill="#32cd32"/>
<rect x="717" y="343" width="1" height="37" fill="#32cd32"/>
<rect x="715" y="351" width="5" height="1" fill="#32cd32"/>
<rect x="725" y="306" width="1" height="50" fill="#ff0000"/>
<rect x="723" y="312" width="5" height="40" fill="#ff0000"/>
<rect x="724" y="313" width="3" height="38" fill="#ff4500"/>
<rect x="733" y="270" width="1" height="48" fill="#ff0000"/>
<rect x="731" y="303" width="5" height="10" fill="#ff0000"/>
<rect x="732" y="304" width="3" height="8" fill="#ff4500"/>
<rect x="741" y="289" width="1" height="26" fill="#ff0000"/>
<rect x="739" y="299" width="5" height="5" fill="#ff0000"/>
<rect x="740" y="300" width="3" height="3" fill="#ff4500"/>
<rect x="749" y="295" width="1" height="17" fill="#32cd32"/>
<rect x="747" y="299" width="5" height="10" fill="#32cd32"/>
<rect x="757" y="283" width="1" height="36" fill="#ff0000"/>
<rect x="755" y="289" width="5" height="24" fill="#ff0000"/>
<rect x="756" y="290" width="3" height="22" fill="#ff4500"/>
<rect x="765" y="282" width="1" height="26" fill="#32cd32"/>
<rect x="763" y="290" width="5" height="10" fill="#32cd32"/>
<rect x="773" y="290" width="1" height="50" fill="#32cd32"/>
<rect x="771" y="299" width="5" height="29" fill="#32cd32"/>
<rect x="781" y="274" width="1" height="106" fill="#ff0000"/>
<rect x="779" y="277" width="5" height="52" fill="#ff0000"/>
<rect x="780" y="278" width="3" height="50" fill="#ff4500"/>
<rect x="789" y="253" width="1" height="38" fill="#ff0000"/>
<rect x="787" y="277" width="5" height="2" fill="#ff0000"/>
<rect x="797" y="274" width="1" height="9" fill="#32cd32"/>
<rect x="795" y="278" width="5" height="5" fill="#32cd32"/>
<rect x="805" y="269" width="1" height="65" fill="#32cd32"/>
<rect x="803" y="274" width="5" height="51" fill="#32cd32"/>
<rect x="813" y="283" width="1" height="53" fill="#ff0000"/>
<rect x="811" y="285" width="5" height="40" fill="#ff0000"/>
<rect x="812" y="286" width="3" height="38" fill="#ff4500"/>
<rect x="821" y="277" width="1" height="27" fill="#32cd32"/>
<rect x="819" y="285" width="5" height="2" fill="#32cd32"/>
<rect x="829" y="278" width="1" height="42" fill="#32cd32"/>
<rect x="827" y="286" width="5" height="12" fill="#32cd32"/>
<rect x="837" y="282" width="1" height="50" fill="#32cd32"/>
<rect x="835" y="296" width="5" height="32" fill="#32cd32"/>
<rect x="845" y="315" width="1" height="13" fill="#ff0000"/>
<rect x="843" y="318" width="5" height="9" fill="#ff0000"/>
<rect x="844" y="319" width="3" height="7" fill="#ff4500"/>
<rect x="853" y="311" width="1" height="42" fill="#32cd32"/>
<rect x="851" y="316" width="5" height="20" fill="#32cd32"/>
<rect x="861" y="318" width="1" height="23" fill="#ff0000"/>
<rect x="859" y="329" width="5" height="7" fill="#ff0000"/>
<rect x="860" y="330" width="3" height="5" fill="#ff4500"/>
<rect x="869" y="312" width="1" height="53" fill="#32cd32"/>
<rect x="867" y="328" width="5" height="37" fill="#32cd32"/>
<rect x="877" y="351" width="1" height="32" fill="#32cd32"/>
<rect x="875" y="363" width="5" height="9" fill="#32cd32"/>
<rect x="885" y="357" width="1" height="38" fill="#ff0000"/>
<rect x="883" y="369" width="5" height="3" fill="#ff0000"/>
<rect x="884" y="370" width="3" height="1" fill="#ff4500"/>
<rect x="893" y="364" width="1" height="10" fill="#32cd32"/>
<rect x="891" y="369" width="5" height="2" fill="#32cd32"/>
<rect x="901" y="364" width="1" height="45" fill="#32cd32"/>
<rect x="899" y="367" width="5" height="29" fill="#32cd32"/>
<rect x="909" y="373" width="1" height="40" fill="#ff0000"/>
<rect x="907" y="376" width="5" height="19" fill="#ff0000"/>
<rect x="908" y="377" width="3" height="17" fill="#ff4500"/>
<rect x="917" y="368" width="1" height="13" fill="#ff0000"/>
<rect x="915" y="374" width="5" height="3" fill="#ff0000"/>
<rect x="916" y="375" width="3" height="1" fill="#ff4500"/>
</g>
<rect x="4" y="188" width="6" height="6" fill="#ff0000"/><rect x="6" y="190" width="2" height="2" fill="#fff"/>
<rect x="1161" y="188" width="6" height="6" fill="#ff0000"/><rect x="1163" y="190" width="2" height="2" fill="#fff"/>
<rect x="4" y="256" width="6" height="6" fill="#ff0000"/><rect x="6" y="258" width="2" height="2" fill="#fff"/>
<rect x="1161" y="256" width="6" height="6" fill="#ff0000"/><rect x="1163" y="258" width="2" height="2" fill="#fff"/>
<rect x="4" y="325" width="6" height="6" fill="#00ff00"/><rect x="6" y="327" width="2" height="2" fill="#fff"/>
<rect x="1161" y="325" width="6" height="6" fill="#00ff00"/><rect x="1163" y="327" width="2" height="2" fill="#fff"/>
<g clip-path="url(#c2)">
<rect x="4" y="456" width="3" height="12" fill="#c0c0c0"/>
<rect x="12" y="456" width="3" height="12" fill="#c0c0c0"/>
<rect x="20" y="456" width="3" height="10" fill="#c0c0c0"/>
<rect x="28" y="456" width="3" height="8" fill="#c0c0c0"/>
<rect x="36" y="456" width="3" height="8" fill="#c0c0c0"/>
<rect x="44" y="456" width="3" height="8" fill="#c0c0c0"/>
<rect x="52" y="456" width="3" height="10" fill="#c0c0c0"/>
<rect x="60" y="456" width="3" height="11" fill="#c0c0c0"/>
<rect x="68" y="456" width="3" height="12" fill="#c0c0c0"/>
<rect x="76" y="456" width="3" height="11" fill="#c0c0c0"/>
<rect x="84" y="456" width="3" height="8" fill="#c0c0c0"/>
<rect x="92" y="456" width="3" height="4" fill="#c0c0c0"/>
<rect x="100" y="456" width="3" height="1" fill="#c0c0c0"/>
<rect x="108" y="451" width="3" height="5" fill="#c0c0c0"/>
<rect x="116" y="445" width="3" height="11" fill="#c0c0c0"/>
<rect x="124" y="440" width="3" height="16" fill="#c0c0c0"/>
<rect x="132" y="438" width="3" height="18" fill="#c0c0c0"/>
<rect x="140" y="437" width="3" height="19" fill="#c0c0c0"/>
<rect x="148" y="437" width="3" height="19" fill="#c0c0c0"/>
<rect x="156" y="437" width="3" height="19" fill="#c0c0c0"/>
<rect x="164" y="441" width="3" height="15" fill="#c0c0c0"/>
<rect x="172" y="445" width="3" height="11" fill="#c0c0c0"/>
<rect x="180" y="447" width="3" height="9" fill="#c0c0c0"/>
<rect x="188" y="450" width="3" height="6" fill="#c0c0c0"/>
<rect x="196" y="452" width="3" height="4" fill="#c0c0c0"/>
<rect x="204" y="450" width="3" height="6" fill="#c0c0c0"/>
<rect x="212" y="445" width="3" height="11" fill="#c0c0c0"/>
<rect x="220" y="441" width="3" height="15" fill="#c0c0c0"/>
<rect x="228" y="436" width="3" height="20" fill="#c0c0c0"/>
<rect x="236" y="433" width="3" height="23" fill="#c0c0c0"/>
<rect x="244" y="430" width="3" height="26" fill="#c0c0c0"/>
<rect x="252" y="429" width="3" height="27" fill="#c0c0c0"/>
<rect x="260" y="429" width="3" height="27" fill="#c0c0c0"/>
<rect x="268" y="428" width="3" height="28" fill="#c0c0c0"/>
<rect x="276" y="432" width="3" height="24" fill="#c0c0c0"/>
<rect x="284" y="436" width="3" height="20" fill="#c0c0c0"/>
<rect x="292" y="441" width="3" height="15" fill="#c0c0c0"/>
<rect x="300" y="444" width="3" height="12" fill="#c0c0c0"/>
<rect x="308" y="450" width="3" height="6" fill="#c0c0c0"/>
<rect x="316" y="455" width="3" height="1" fill="#c0c0c0"/>
<rect x="324" y="456" width="3" height="4" fill="#c0c0c0"/>
<rect x="332" y="456" width="3" height="7" fill="#c0c0c0"/>
<rect x="340" y="456" width="3" height="7" fill="#c0c0c0"/>
<rect x="348" y="456" width="3" height="7" fill="#c0c0c0"/>
<rect x="356" y="456" width="3" height="7" fill="#c0c0c0"/>
<rect x="364" y="456" width="3" height="6" fill="#c0c0c0"/>
<rect x="372" y="456" width="3" height="6" fill="#c0c0c0"/>
<rect x="380" y="456" width="3" height="9" fill="#c0c0c0"/>
<rect x="388" y="456" width="3" height="9" fill="#c0c0c0"/>
<rect x="396" y="456" width="3" height="10" fill="#c0c0c0"/>
<rect x="404" y="456" width="3" height="11" fill="#c0c0c0"/>
<rect x="412" y="456" width="3" height="11" fill="#c0c0c0"/>
<rect x="420" y="456" width="3" height="12" fill="#c0c0c0"/>
<rect x="428" y="456" width="3" height="15" fill="#c0c0c0"/>
<rect x="436" y="456" width="3" height="19" fill="#c0c0c0"/>
<rect x="444" y="456" width="3" height="20" fill="#c0c0c0"/>
<rect x="452" y="456" width="3" height="23" fill="#c0c0c0"/>
<rect x="460" y="456" width="3" height="25" fill="#c0c0c0"/>
<rect x="468" y="456" width="3" height="25" fill="#c0c0c0"/>
<rect x="476" y="456" width="3" height="25" fill="#c0c0c0"/>
<rect x="484" y="456" width="3" height="25" fill="#c0c0c0"/>
<rect x="492" y="456" width="3" height="29" fill="#c0c0c0"/>
<rect x="500" y="456" width="3" height="29" fill="#c0c0c0"/>
<rect x="508" y="456" width="3" height="28" fill="#c0c0c0"/>
<rect x="516" y="456" width="3" height="23" fill="#c0c0c0"/>
<rect x="524" y="456" width="3" height="19" fill="#c0c0c0"/>
<rect x="532" y="456" width="3" height="13" fill="#c0c0c0"/>
<rect x="540" y="456" width="3" height="10" fill="#c0c0c0"/>
<rect x="548" y="456" width="3" height="7" fill="#c0c0c0"/>
<rect x="556" y="456" width="3" height="5" fill="#c0c0c0"/>
<rect x="564" y="456" width="3" height="4" fill="#c0c0c0"/>
<rect x="572" y="456" width="3" height="4" fill="#c0c0c0"/>
<rect x="580" y="456" width="3" height="6" fill="#c0c0c0"/>
<rect x="588" y="456" width="3" height="10" fill="#c0c0c0"/>
<rect x="596" y="456" width="3" height="13" fill="#c0c0c0"/>
<rect x="604" y="456" width="3" height="16" fill="#c0c0c0"/>
<rect x="612" y="456" width="3" height="17" fill="#c0c0c0"/>
<rect x="620" y="456" width="3" height="19" fill="#c0c0c0"/>
<rect x="628" y="456" width="3" height="19" fill="#c0c0c0"/>
<rect x="636" y="456" width="3" height="20" fill="#c0c0c0"/>
<rect x="644" y="456" width="3" height="17" fill="#c0c0c0"/>
<rect x="652" y="456" width="3" height="16" fill="#c0c0c0"/>
<rect x="660" y="456" width="3" height="15" fill="#c0c0c0"/>
<rect x="668" y="456" width="3" height="15" fill="#c0c0c0"/>
<rect x="676" y="456" width="3" height="16" fill="#c0c0c0"/>
<rect x="684" y="456" width="3" height="18" fill="#c0c0c0"/>
<rect x="692" y="456" width="3" height="23" fill="#c0c0c0"/>
<rect x="700" y="456" width="3" height="27" fill="#c0c0c0"/>
<rect x="708" y="456" width="3" height="31" fill="#c0c0c0"/>
<rect x="716" y="456" width="3" height="33" fill="#c0c0c0"/>
<rect x="724" y="456" width="3" height="32" fill="#c0c0c0"/>
<rect x="732" y="456" width="3" height="30" fill="#c0c0c0"/>
<rect x="740" y="456" width="3" height="28" fill="#c0c0c0"/>
<rect x="748" y="456" width="3" height="26" fill="#c0c0c0"/>
<rect x="756" y="456" width="3" height="23" fill="#c0c0c0"/>
<rect x="764" y="456" width="3" height="22" fill="#c0c0c0"/>
<rect x="772" y="456" width="3" height="22" fill="#c0c0c0"/>
<rect x="780" y="456" width="3" height="18" fill="#c0c0c0"/>
<rect x="788" y="456" width="3" height="15" fill="#c0c0c0"/>
<rect x="796" y="456" width="3" height="13" fill="#c0c0c0"/>
<rect x="804" y="456" width="3" height="15" fill="#c0c0c0"/>
<rect x="812" y="456" width="3" height="13" fill="#c0c0c0"/>
<rect x="820" y="456" width="3" height="11" fill="#c0c0c0"/>
<rect x="828" y="456" width="3" height="10" fill="#c0c0c0"/>
<rect x="836" y="456" width="3" height="12" fill="#c0c0c0"/>
<rect x="844" y="456" width="3" height="13" fill="#c0c0c0"/>
<rect x="852" y="456" width="3" height="14" fill="#c0c0c0"/>
<rect x="860" y="456" width="3" height="15" fill="#c0c0c0"/>
<rect x="868" y="456" width="3" height="18" fill="#c0c0c0"/>
<rect x="876" y="456" width="3" height="21" fill="#c0c0c0"/>
<rect x="884" y="456" width="3" height="23" fill="#c0c0c0"/>
<rect x="892" y="456" width="3" height="24" fill="#c0c0c0"/>
<rect x="900" y="456" width="3" height="26" fill="#c0c0c0"/>
<rect x="908" y="456" width="3" height="27" fill="#c0c0c0"/>
<rect x="916" y="456" width="3" height="26" fill="#c0c0c0"/>
<path d="M279,433.5h22M275,434.5h4M301,434.5h7M271,435.5h4M308,435.5h4M267,436.5h4M312,436.5h3M263,437.5h4M315,437.5h2M259,438.5h4M317,438.5h2M256,439.5h3M319,439.5h3M172,440.5h18M253,440.5h3M322,440.5h2M166,441.5h6M190,441.5h6M250,441.5h3M324,441.5h2M162,442.5h4M196,442.5h7M245,442.5h5M326,442.5h2M158,443.5h4M203,443.5h4M239,443.5h6M328,443.5h2M156,444.5h2M207,444.5h6M231,444.5h8M330,444.5h3M153,445.5h3M213,445.5h18M333,445.5h2M151,446.5h2M335,446.5h2M148,447.5h3M337,447.5h2M146,448.5h2M339,448.5h2M143,449.5h3M341,449.5h3M141,450.5h2M344,450.5h3M138,451.5h3M347,451.5h2M136,452.5h2M349,452.5h3M133,453.5h3M352,453.5h4M131,454.5h2M356,454.5h3M128,455.5h3M359,455.5h4M125,456.5h3M363,456.5h4M121,457.5h4M367,457.5h3M118,458.5h3M370,458.5h4M115,459.5h3M374,459.5h4M111,460.5h4M378,460.5h4M107,461.5h4M382,461.5h6M100,462.5h7M388,462.5h9M5,463.5h5M94,463.5h6M397,463.5h19M591,463.5h20M10,464.5h8M87,464.5h7M416,464.5h8M583,464.5h8M611,464.5h6M18,465.5h69M424,465.5h8M578,465.5h5M617,465.5h6M432,466.5h8M576,466.5h2M623,466.5h5M440,467.5h4M574,467.5h2M628,467.5h5M444,468.5h4M571,468.5h3M633,468.5h5M839,468.5h36M448,469.5h4M569,469.5h2M638,469.5h5M833,469.5h6M875,469.5h6M452,470.5h5M566,470.5h4M643,470.5h5M827,470.5h6M881,470.5h7M457,471.5h5M562,471.5h4M648,471.5h10M823,471.5h4M888,471.5h5M462,472.5h5M559,472.5h3M658,472.5h33M819,472.5h4M893,472.5h4M467,473.5h5M556,473.5h4M691,473.5h6M814,473.5h6M897,473.5h6M472,474.5h5M554,474.5h2M697,474.5h8M809,474.5h5M903,474.5h5M477,475.5h6M551,475.5h3M705,475.5h7M804,475.5h6M908,475.5h6M483,476.5h7M547,476.5h4M712,476.5h5M799,476.5h5M914,476.5h4M489,477.5h4M542,477.5h5M717,477.5h5M794,477.5h6M493,478.5h3M535,478.5h7M722,478.5h4M789,478.5h5M496,479.5h4M528,479.5h7M726,479.5h4M785,479.5h5M499,480.5h6M521,480.5h7M729,480.5h6M781,480.5h4M505,481.5h16M735,481.5h5M776,481.5h5M740,482.5h9M769,482.5h7M749,483.5h21" fill="none" stroke="#ff0000" stroke-width="1"/>
</g>
<g clip-path="url(#c3)">
<line x1="6" y1="520.5" x2="1167" y2="520.5" stroke="#c0c0c0" stroke-width="1" stroke-dasharray="3,3"/>
<line x1="6" y1="553.5" x2="1167" y2="553.5" stroke="#c0c0c0" stroke-width="1" stroke-dasharray="3,3"/>
<path d="M123,518.5h3M116,519.5h7M126,519.5h1M113,520.5h3M127,520.5h2M110,521.5h3M129,521.5h1M109,522.5h1M130,522.5h2M227,522.5h8M107,523.5h2M132,523.5h1M136,523.5h9M224,523.5h3M235,523.5h13M106,524.5h1M133,524.5h3M145,524.5h5M221,524.5h3M248,524.5h4M105,525.5h1M150,525.5h1M218,525.5h3M252,525.5h18M103,526.5h2M151,526.5h2M214,526.5h4M270,526.5h1M102,527.5h1M153,527.5h1M212,527.5h2M271,527.5h1M96,528.5h6M154,528.5h1M210,528.5h2M272,528.5h1M92,529.5h4M155,529.5h2M207,529.5h3M272,529.5h1M90,530.5h2M157,530.5h1M205,530.5h2M273,530.5h1M88,531.5h2M158,531.5h1M204,531.5h1M274,531.5h1M532,531.5h3M86,532.5h2M159,532.5h1M203,532.5h1M275,532.5h1M530,532.5h2M535,532.5h3M85,533.5h1M160,533.5h1M202,533.5h1M276,533.5h1M528,533.5h2M538,533.5h3M543,533.5h9M28,534.5h3M83,534.5h2M161,534.5h1M201,534.5h1M276,534.5h1M526,534.5h2M541,534.5h2M552,534.5h5M559,534.5h8M25,535.5h3M31,535.5h3M82,535.5h1M162,535.5h1M200,535.5h1M277,535.5h5M517,535.5h9M557,535.5h2M567,535.5h2M23,536.5h2M34,536.5h2M80,536.5h2M162,536.5h1M200,536.5h1M282,536.5h5M364,536.5h5M516,536.5h1M569,536.5h2M781,536.5h13M21,537.5h2M36,537.5h3M79,537.5h1M163,537.5h1M180,537.5h3M199,537.5h1M287,537.5h3M361,537.5h3M369,537.5h4M516,537.5h1M571,537.5h2M645,537.5h9M780,537.5h1M794,537.5h4M813,537.5h12M19,538.5h2M39,538.5h3M78,538.5h1M164,538.5h1M178,538.5h2M183,538.5h2M198,538.5h1M290,538.5h3M295,538.5h7M341,538.5h13M359,538.5h2M373,538.5h2M515,538.5h1M573,538.5h2M644,538.5h1M654,538.5h2M779,538.5h1M798,538.5h1M812,538.5h1M825,538.5h4M18,539.5h1M42,539.5h3M76,539.5h2M165,539.5h3M176,539.5h2M185,539.5h2M195,539.5h3M293,539.5h2M302,539.5h1M340,539.5h1M354,539.5h5M375,539.5h1M514,539.5h1M575,539.5h2M643,539.5h1M656,539.5h2M756,539.5h5M778,539.5h1M799,539.5h1M810,539.5h2M829,539.5h2M16,540.5h2M45,540.5h2M74,540.5h2M168,540.5h3M175,540.5h1M187,540.5h1M192,540.5h3M303,540.5h1M339,540.5h1M376,540.5h1M513,540.5h1M577,540.5h2M643,540.5h1M658,540.5h1M755,540.5h1M761,540.5h4M778,540.5h1M800,540.5h1M809,540.5h1M831,540.5h2M14,541.5h2M47,541.5h1M72,541.5h2M171,541.5h4M188,541.5h4M304,541.5h1M338,541.5h1M377,541.5h2M387,541.5h7M513,541.5h1M579,541.5h2M642,541.5h1M659,541.5h2M753,541.5h2M765,541.5h2M777,541.5h1M801,541.5h2M808,541.5h1M833,541.5h2M844,541.5h3M12,542.5h2M48,542.5h1M70,542.5h2M305,542.5h1M337,542.5h1M379,542.5h1M385,542.5h2M394,542.5h15M512,542.5h1M581,542.5h2M641,542.5h1M661,542.5h4M735,542.5h10M751,542.5h2M767,542.5h1M776,542.5h1M803,542.5h1M807,542.5h1M835,542.5h2M839,542.5h5M847,542.5h2M10,543.5h2M49,543.5h1M68,543.5h2M306,543.5h1M336,543.5h1M380,543.5h1M382,543.5h3M409,543.5h13M511,543.5h1M583,543.5h2M640,543.5h1M665,543.5h4M730,543.5h5M745,543.5h4M750,543.5h1M768,543.5h2M775,543.5h1M804,543.5h1M806,543.5h1M837,543.5h2M849,543.5h3M857,543.5h6M7,544.5h3M50,544.5h1M65,544.5h3M307,544.5h1M335,544.5h1M381,544.5h1M422,544.5h1M510,544.5h1M585,544.5h2M639,544.5h1M669,544.5h5M726,544.5h4M749,544.5h1M770,544.5h1M775,544.5h1M805,544.5h1M852,544.5h5M863,544.5h2M5,545.5h2M51,545.5h1M63,545.5h2M308,545.5h1M313,545.5h9M334,545.5h1M423,545.5h1M510,545.5h1M587,545.5h2M639,545.5h1M674,545.5h5M725,545.5h1M771,545.5h2M774,545.5h1M865,545.5h2M52,546.5h1M58,546.5h5M309,546.5h4M322,546.5h12M424,546.5h2M501,546.5h9M589,546.5h5M602,546.5h7M626,546.5h7M638,546.5h1M679,546.5h2M724,546.5h1M773,546.5h1M867,546.5h2M914,546.5h4M53,547.5h5M426,547.5h1M474,547.5h6M500,547.5h1M594,547.5h8M609,547.5h17M633,547.5h5M681,547.5h3M723,547.5h1M869,547.5h6M909,547.5h5M427,548.5h1M468,548.5h6M480,548.5h5M499,548.5h1M684,548.5h2M723,548.5h1M875,548.5h20M907,548.5h2M428,549.5h1M443,549.5h5M466,549.5h2M485,549.5h2M498,549.5h1M686,549.5h2M722,549.5h1M895,549.5h2M905,549.5h2M429,550.5h3M441,550.5h2M448,550.5h2M463,550.5h3M487,550.5h1M497,550.5h1M688,550.5h1M721,550.5h1M897,550.5h3M903,550.5h2M432,551.5h4M439,551.5h2M450,551.5h2M458,551.5h5M488,551.5h1M496,551.5h1M689,551.5h1M721,551.5h1M900,551.5h3M436,552.5h3M452,552.5h6M489,552.5h2M495,552.5h1M690,552.5h2M720,552.5h1M491,553.5h1M494,553.5h1M692,553.5h1M719,553.5h1M492,554.5h1M494,554.5h1M693,554.5h6M718,554.5h1M493,555.5h1M699,555.5h6M718,555.5h1M705,556.5h13" fill="none" stroke="#1e90ff" stroke-width="1"/>
</g>
<rect x="1168" y="56" width="2" height="1" fill="#000"/>
<rect x="1168" y="89" width="2" height="1" fill="#000"/>
<rect x="1168" y="122" width="2" height="1" fill="#000"/>
<rect x="1168" y="155" width="2" height="1" fill="#000"/>
<rect x="1168" y="188" width="2" height="1" fill="#000"/>
<rect x="1168" y="221" width="2" height="1" fill="#000"/>
<rect x="1168" y="254" width="2" height="1" fill="#000"/>
<rect x="1168" y="287" width="2" height="1" fill="#000"/>
<rect x="1168" y="320" width="2" height="1" fill="#000"/>
<rect x="1168" y="353" width="2" height="1" fill="#000"/>
<rect x="1168" y="386" width="2" height="1" fill="#000"/>
<rect x="1168" y="419" width="2" height="1" fill="#000"/>
<rect x="1168" y="456" width="2" height="1" fill="#000"/>
<rect x="1168" y="520" width="2" height="1" fill="#000"/>
<rect x="1168" y="553" width="2" height="1" fill="#000"/>
<rect x="5" y="579" width="1" height="3" fill="#000"/>
<rect x="69" y="579" width="1" height="3" fill="#000"/>
<rect x="133" y="579" width="1" height="3" fill="#000"/>
<rect x="197" y="579" width="1" height="3" fill="#000"/>
<rect x="261" y="579" width="1" height="3" fill="#000"/>
<rect x="325" y="579" width="1" height="3" fill="#000"/>
<rect x="389" y="579" width="1" height="3" fill="#000"/>
<rect x="453" y="579" width="1" height="3" fill="#000"/>
<rect x="517" y="579" width="1" height="3" fill="#000"/>
<rect x="581" y="579" width="1" height="3" fill="#000"/>
<rect x="645" y="579" width="1" height="3" fill="#000"/>
<rect x="709" y="579" width="1" height="3" fill="#000"/>
<rect x="773" y="579" width="1" height="3" fill="#000"/>
<rect x="837" y="579" width="1" height="3" fill="#000"/>
<rect x="901" y="579" width="1" height="3" fill="#000"/>
</svg>
<div class="t ax" style="left:1173px;top:52px;">1.13950</div>
<div class="t ax" style="left:1173px;top:85px;">1.13470</div>
<div class="t ax" style="left:1173px;top:118px;">1.12990</div>
<div class="t ax" style="left:1173px;top:151px;">1.12510</div>
<div class="t ax" style="left:1173px;top:217px;">1.11550</div>
<div class="t ax" style="left:1173px;top:250px;">1.11070</div>
<div class="t ax" style="left:1173px;top:283px;">1.10590</div>
<div class="t ax" style="left:1173px;top:316px;">1.10110</div>
<div class="t ax" style="left:1173px;top:349px;">1.09630</div>
<div class="t ax" style="left:1173px;top:382px;">1.09150</div>
<div class="t ax" style="left:1173px;top:415px;">1.08670</div>
<div class="tag" style="top:185px;background:#ff0000;color:#fff"><span>1.11992</span></div>
<div class="tag" style="top:253px;background:#ff0000;color:#fff"><span>1.11006</span></div>
<div class="tag" style="top:322px;background:#00ff00;color:#fff"><span>1.10004</span></div>
<div class="tag" style="top:369px;background:#000;color:#fff"><span>1.09326</span></div>
<div class="t ax" style="left:1171px;top:427px;">0.00463</div>
<div class="t ax" style="left:1171px;top:452px;">0.00</div>
<div class="t ax" style="left:1171px;top:482px;">-0.005299</div>
<div class="t ax" style="left:1171px;top:497px;">100</div>
<div class="t ax" style="left:1171px;top:517px;">70</div>
<div class="t ax" style="left:1171px;top:549px;">30</div>
<div class="t ax" style="left:1171px;top:567px;">0</div>
<div class="t ax" style="left:4px;top:583px;letter-spacing:0.256px">22 May 2019</div>
<div class="t ax" style="left:68px;top:583px;letter-spacing:0.256px">31 May 2019</div>
<div class="t ax" style="left:132px;top:583px;letter-spacing:0.000px">10 Jun 2019</div>
<div class="t ax" style="left:196px;top:583px;letter-spacing:0.000px">19 Jun 2019</div>
<div class="t ax" style="left:260px;top:583px;letter-spacing:0.000px">28 Jun 2019</div>
<div class="t ax" style="left:324px;top:583px;letter-spacing:0.000px">8 Jul 2019</div>
<div class="t ax" style="left:388px;top:583px;letter-spacing:0.000px">17 Jul 2019</div>
<div class="t ax" style="left:452px;top:583px;letter-spacing:0.000px">26 Jul 2019</div>
<div class="t ax" style="left:516px;top:583px;letter-spacing:0.100px">5 Aug 2019</div>
<div class="t ax" style="left:580px;top:583px;letter-spacing:0.122px">14 Aug 2019</div>
<div class="t ax" style="left:644px;top:583px;letter-spacing:0.200px">23 Aug 2019</div>
<div class="t ax" style="left:708px;top:583px;letter-spacing:0.000px">2 Sep 2019</div>
<div class="t ax" style="left:772px;top:583px;letter-spacing:0.089px">11 Sep 2019</div>
<div class="t ax" style="left:836px;top:583px;letter-spacing:0.000px">20 Sep 2019</div>
<div class="t ax" style="left:900px;top:583px;letter-spacing:0.000px">30 Sep 2019</div>
<div class="t ax" style="left:9.5px;top:429px;letter-spacing:0.131px">MACD(12,26,9) -0.003788 -0.003042</div>
<div class="t ax" style="left:9.5px;top:499px;letter-spacing:0.071px">RSI(14) 38.0811</div>
<div class="t ax" style="left:20.5px;top:29px;letter-spacing:0.156px">EURUSD,Daily&nbsp; 1.09307 1.09420 1.09244 1.09326</div>

<div id="tp">
 <div style="position:absolute;left:6px;top:43px;width:223px;height:68px;background:#fff"></div>
 <div class="pb" style="left:8px;top:45px;width:52px;height:24px;background:linear-gradient(#5656f2,#3232dc)"></div>
 <div class="pb" style="left:176px;top:45px;width:51px;height:24px;background:linear-gradient(#5656f2,#3232dc)"></div>
 <div style="position:absolute;left:60px;top:45px;width:116px;height:24px;background:#fff"></div>
 <div class="pb" style="left:8px;top:69px;width:109px;height:40px;background:linear-gradient(#3030dc,#1414c4 45%,#00009c)"></div>
 <div class="pb" style="left:119px;top:69px;width:108px;height:40px;background:linear-gradient(#3030dc,#1414c4 45%,#00009c)"></div>
 <div style="position:absolute;left:117px;top:69px;width:2px;height:40px;background:#fff"></div>
 <div class="ov" style="left:8px;top:45px;width:52px;height:1px"></div>
 <div class="ov" style="left:8px;top:46px;width:1px;height:63px"></div>
 <div class="ov" style="left:9px;top:108px;width:108px;height:1px"></div>
 <div class="ov" style="left:116px;top:69px;width:1px;height:39px"></div>
 <div class="ov" style="left:60px;top:69px;width:56px;height:1px"></div>
 <div class="ov" style="left:59px;top:46px;width:1px;height:23px"></div>
 <div class="ov" style="left:176px;top:45px;width:51px;height:1px"></div>
 <div class="ov" style="left:226px;top:46px;width:1px;height:63px"></div>
 <div class="ov" style="left:119px;top:108px;width:107px;height:1px"></div>
 <div class="ov" style="left:119px;top:69px;width:1px;height:39px"></div>
 <div class="ov" style="left:120px;top:69px;width:56px;height:1px"></div>
 <div class="ov" style="left:176px;top:46px;width:1px;height:23px"></div>
 <div style="position:absolute;left:12px;top:68px;width:44px;height:1px;background:#1a1aa8"></div>
 <div style="position:absolute;left:12px;top:69px;width:44px;height:1px;background:#8c8cf4"></div>
 <div style="position:absolute;left:179px;top:68px;width:44px;height:1px;background:#1a1aa8"></div>
 <div style="position:absolute;left:179px;top:69px;width:44px;height:1px;background:#8c8cf4"></div>
 <div style="position:absolute;left:62px;top:45px;width:112px;height:22px;border:1px solid #a8a8a8;box-sizing:border-box;background:#fff"></div>
 <div class="sp" style="left:63px;top:46px"></div>
 <div class="sp" style="left:152px;top:46px"></div>
 <svg style="left:70px;top:54px" width="5" height="3" viewBox="0 0 5 3" shape-rendering="crispEdges"><rect x="0" y="0" width="5" height="1" fill="#4a5ec0"/><rect x="1" y="1" width="3" height="1" fill="#4a5ec0"/><rect x="2" y="2" width="1" height="1" fill="#4a5ec0"/></svg>
 <svg style="left:159px;top:54px" width="5" height="3" viewBox="0 0 5 3" shape-rendering="crispEdges"><rect x="2" y="0" width="1" height="1" fill="#4a5ec0"/><rect x="1" y="1" width="3" height="1" fill="#4a5ec0"/><rect x="0" y="2" width="5" height="1" fill="#4a5ec0"/></svg>
 <div class="t" style="left:20.3px;top:51px;font-size:12.4px;line-height:13px;color:#f0f0ff;transform-origin:0 0;transform:scaleX(0.885)">SELL</div>
 <div class="t" style="left:187.8px;top:51px;font-size:12.4px;line-height:13px;color:#f0f0ff;transform-origin:0 0;transform:scaleX(0.98)">BUY</div>
 <div class="t" style="left:124.5px;top:49px;font-size:12px;line-height:14px;color:#000;transform:none">5.00</div>
 <div class="t pr1" style="left:28px">1.09</div>
 <svg style="left:0;top:0" width="240" height="120" viewBox="0 0 240 120"><defs><linearGradient id="pg" gradientUnits="userSpaceOnUse" x1="0" y1="69" x2="0" y2="109"><stop offset="0" stop-color="#3030dc"/><stop offset=".45" stop-color="#1414c4"/><stop offset="1" stop-color="#00009c"/></linearGradient></defs>
 <g font-family="Liberation Sans" font-size="33.5" fill="#fff" stroke="url(#pg)" stroke-width=".8" text-rendering="geometricPrecision"><text x="55" y="100">32</text><text x="165.8" y="100">34</text></g></svg>
 <div class="t pr3" style="left:94.6px">6</div>
 <div class="t pr1" style="left:137.9px">1.09</div>
 <div class="t pr3" style="left:205.6px">4</div>
 <svg style="left:8px;top:32px" width="7" height="4" viewBox="0 0 7 4" shape-rendering="crispEdges"><rect x="3" y="0" width="1" height="1"/><rect x="2" y="1" width="3" height="1"/><rect x="1" y="2" width="5" height="1"/><rect x="0" y="3" width="7" height="1"/></svg>
</div>

<div style="position:absolute;left:1px;top:599px;width:1209px;height:1px;background:#e3e3e3"></div>
<div id="tabbar"></div>
<div style="position:absolute;left:0;top:601px;width:1210px;height:1px;background:#000"></div>
<div style="position:absolute;left:110px;top:602px;width:1100px;height:1px;background:#fff"></div>
<div style="position:absolute;left:0;top:621px;width:1210px;height:1px;background:#fcfcfc"></div>
<div style="position:absolute;left:7px;top:620px;width:104px;height:1px;background:#d6d6d6"></div>
<div style="position:absolute;left:110px;top:602px;width:1px;height:18px;background:#dadada"></div>
<div style="position:absolute;left:6px;top:601px;width:104px;height:19px;background:#fff;border:1px solid #000;border-top:none;box-sizing:border-box"></div>
<div style="position:absolute;left:0px;top:601px;width:1px;height:19px;background:#a0a0a0"></div>
<div style="position:absolute;left:1px;top:601px;width:1px;height:19px;background:#696969"></div>
<div class="t tab act" style="left:18.4px;top:605px;letter-spacing:-0.141px">EURUSD,Daily</div>
<div class="t tab" style="left:121.4px;top:605px;letter-spacing:0.098px">AUDUSD,Daily</div>
<div class="t tab" style="left:225.4px;top:605px;letter-spacing:0.000px">USDCHF,Daily</div>
<div class="t tab" style="left:325.4px;top:605px;letter-spacing:0.000px">USDCAD,Daily</div>
<div class="t tab" style="left:428.4px;top:605px;letter-spacing:0.108px">USDCNH,Daily</div>
<div class="t tab" style="left:533.4px;top:605px;letter-spacing:0.000px">XAUUSD,H4</div>
<div class="t tab" style="left:624.4px;top:605px;letter-spacing:0.000px">DJ30,H4</div>
<div class="t tab" style="left:694.4px;top:605px;letter-spacing:0.000px">USDOil,H1</div>
<div class="t tab" style="left:776.4px;top:605px;letter-spacing:-0.217px">USDCHF,H1</div>
<div class="t tab" style="left:866.4px;top:605px;letter-spacing:-0.249px">GBPUSD,H1</div>
<div class="t tab" style="left:958.4px;top:605px;letter-spacing:-0.303px">EURUSD,H1</div>
<div class="t tab" style="left:1049.4px;top:605px;letter-spacing:0.000px">GBPAUD,H1</div>
<div class="t tab" style="left:1140.4px;top:605px;letter-spacing:-0.650px">USDJP</div>
<div style="position:absolute;left:214px;top:604px;width:1px;height:13px;background:#808080"></div>
<div style="position:absolute;left:314px;top:604px;width:1px;height:13px;background:#808080"></div>
<div style="position:absolute;left:418px;top:604px;width:1px;height:13px;background:#808080"></div>
<div style="position:absolute;left:522px;top:604px;width:1px;height:13px;background:#808080"></div>
<div style="position:absolute;left:614px;top:604px;width:1px;height:13px;background:#808080"></div>
<div style="position:absolute;left:682px;top:604px;width:1px;height:13px;background:#808080"></div>
<div style="position:absolute;left:766px;top:604px;width:1px;height:13px;background:#808080"></div>
<div style="position:absolute;left:854px;top:604px;width:1px;height:13px;background:#808080"></div>
<div style="position:absolute;left:946px;top:604px;width:1px;height:13px;background:#808080"></div>
<div style="position:absolute;left:1038px;top:604px;width:1px;height:13px;background:#808080"></div>
<div style="position:absolute;left:1130px;top:604px;width:1px;height:13px;background:#808080"></div>

<svg style="left:1183px;top:607px" width="3" height="6" viewBox="0 0 3 6" shape-rendering="crispEdges"><rect x="2" y="0" width="1" height="6" fill="#a0a0a0"/><rect x="1" y="1" width="1" height="4" fill="#a0a0a0"/><rect x="0" y="2" width="1" height="2" fill="#a0a0a0"/></svg>
<svg style="left:1202px;top:607px" width="3" height="6" viewBox="0 0 3 6" shape-rendering="crispEdges"><rect x="0" y="0" width="1" height="6" fill="#000"/><rect x="1" y="1" width="1" height="4" fill="#000"/><rect x="2" y="2" width="1" height="2" fill="#000"/></svg>

</body></html>
